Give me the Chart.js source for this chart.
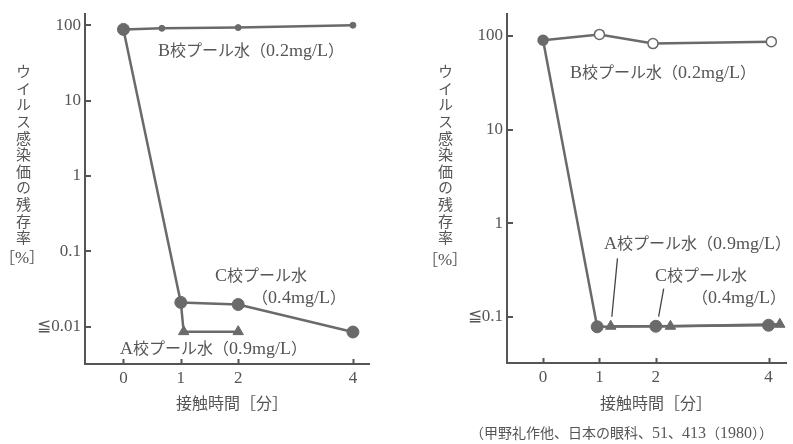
<!DOCTYPE html>
<html>
<head>
<meta charset="utf-8">
<script src="https://cdn.jsdelivr.net/npm/chart.js@4.4.1/dist/chart.umd.min.js"></script>
<style>
    /* 欧文部分だけ少し大きく（明朝体の組版に近づける） */
    @font-face { font-family: "MixLatin"; src: local("Liberation Serif"); unicode-range: U+0020-007E; size-adjust: 112%; }
    body { margin: 0; background: #fff; }
    #wrap { position: relative; width: 793px; height: 444px; overflow: hidden; font-family: "MixLatin", "Noto Sans CJK JP", serif; color: #555; }
    canvas { position: absolute; top: 0; }
    .t { position: absolute; white-space: nowrap; font-size: 16px; line-height: 16px; }
    .vt { position: absolute; writing-mode: vertical-rl; text-orientation: upright; font-size: 15px; line-height: 15px; letter-spacing: 1.6px; white-space: nowrap; }
    .cite { font-size: 14px; line-height: 14px; }
</style>
</head>
<body>
<div id="wrap">
    <canvas id="leftChart" width="400" height="444" style="left:0"></canvas>
    <canvas id="rightChart" width="393" height="444" style="left:400px"></canvas>

    <!-- 左グラフ -->
    <div class="vt" style="left:15px; top:64px;">ウイルス感染価の残存率</div>
    <div class="t" style="left:0px; top:250px; font-size:15px;">［%］</div>
    <div class="t" style="left:158px; top:42px;">B校プール水（0.2mg/L）</div>
    <div class="t" style="left:215px; top:267px;">C校プール水</div>
    <div class="t" style="left:252px; top:289px;">（0.4mg/L）</div>
    <div class="t" style="left:120px; top:340px;">A校プール水（0.9mg/L）</div>
    <div class="t" style="left:176px; top:395px;">接触時間［分］</div>

    <!-- 右グラフ -->
    <div class="vt" style="left:437px; top:64px;">ウイルス感染価の残存率</div>
    <div class="t" style="left:423px; top:252px; font-size:15px;">［%］</div>
    <div class="t" style="left:570px; top:64px;">B校プール水（0.2mg/L）</div>
    <div class="t" style="left:604px; top:235px;">A校プール水（0.9mg/L）</div>
    <div class="t" style="left:655px; top:267px;">C校プール水</div>
    <div class="t" style="left:692px; top:289px;">（0.4mg/L）</div>
    <div class="t" style="left:600px; top:395px;">接触時間［分］</div>
    <div class="t cite" style="left:470px; top:426px;">（甲野礼作他、日本の眼科、51、413（1980））</div>
</div>

<script>
// 軸の目盛
const xTicks = [0, 1, 2, 4];
const leftYTicks = [100, 10, 1, 0.1, 0.01];
const leftYLabels = ['100', '10', '1', '0.1', '≦0.01'];
const rightYTicks = [100, 10, 1, 0.1];
const rightYLabels = ['100', '10', '1', '≦0.1'];

// 左グラフのデータ（接触時間[分], 残存率[%]）
const leftBTimes = [0, 0.67, 2, 4];
const leftBValues = [88, 91, 93, 100];
const leftCTimes = [0, 1, 2, 4];
const leftCValues = [88, 0.021, 0.0197, 0.0085];
const leftATimes = [1, 1.05, 2];
const leftAValues = [0.021, 0.0086, 0.0086];

// 右グラフのデータ
const rightBTimes = [0, 1, 1.95, 4.05];
const rightBValues = [90, 104, 83, 87];
const rightCTimes = [0, 0.96, 2, 4];
const rightCValues = [90, 0.078, 0.079, 0.081];
const rightATimes = [1.2, 2.26, 4.2];
const rightAValues = [0.079, 0.079, 0.083];

// 引き出し線（右グラフ）
const rightLeaders = [
    [[1.22, 0.1], [1.32, 0.42]],
    [[2.05, 0.1], [2.14, 0.2]]
];

const GRAY = '#6a6a6a';
const AXIS = '#555';
const TICK_FONT = { family: "'Liberation Serif', serif", size: 17 };

const toPoints = (xs, ys) => xs.map((x, i) => ({ x: x, y: ys[i] }));

// 内向きの目盛線と引き出し線
const innerTicks = {
    id: 'innerTicks',
    afterDraw(chart, args, opts) {
        const { ctx, chartArea, scales } = chart;
        ctx.save();
        ctx.strokeStyle = AXIS;
        ctx.lineWidth = 2;
        ctx.beginPath();
        scales.x.ticks.forEach(t => {
            const px = Math.round(scales.x.getPixelForValue(t.value)) + 0.5;
            ctx.moveTo(px, chartArea.bottom);
            ctx.lineTo(px, chartArea.bottom - 5);
        });
        scales.y.ticks.forEach(t => {
            const py = Math.round(scales.y.getPixelForValue(t.value));
            ctx.moveTo(chartArea.left, py);
            ctx.lineTo(chartArea.left + 6, py);
        });
        ctx.stroke();

        ctx.lineWidth = 1.3;
        ctx.strokeStyle = '#444';
        ctx.beginPath();
        (opts.leaders || []).forEach(seg => {
            ctx.moveTo(scales.x.getPixelForValue(seg[0][0]), scales.y.getPixelForValue(seg[0][1]));
            ctx.lineTo(scales.x.getPixelForValue(seg[1][0]), scales.y.getPixelForValue(seg[1][1]));
        });
        ctx.stroke();
        ctx.restore();
    }
};

function lineSet(data, extra) {
    return Object.assign({
        data: data,
        borderColor: GRAY,
        borderWidth: 2.5,
        backgroundColor: GRAY,
        pointBackgroundColor: GRAY,
        pointBorderColor: GRAY,
        pointBorderWidth: 1,
        tension: 0,
        clip: false
    }, extra);
}

function makeChart(id, cfg) {
    return new Chart(document.getElementById(id), {
        type: 'line',
        data: { datasets: cfg.datasets },
        options: {
            responsive: false,
            animation: false,
            devicePixelRatio: 1,
            layout: { padding: { top: 13, right: cfg.padRight, left: 0, bottom: 0 } },
            plugins: { legend: { display: false }, tooltip: { enabled: false }, innerTicks: { leaders: cfg.leaders } },
            scales: {
                x: {
                    type: 'linear',
                    min: cfg.xMin, max: cfg.xMax,
                    afterBuildTicks: s => { s.ticks = xTicks.map(v => ({ value: v })); },
                    afterFit: s => { s.height = cfg.xHeight; },
                    ticks: { callback: v => String(v), font: TICK_FONT, color: '#555', padding: 4, autoSkip: false, maxRotation: 0 },
                    grid: { drawOnChartArea: false, drawTicks: false },
                    border: { color: AXIS, width: 2 }
                },
                y: {
                    type: 'logarithmic',
                    min: cfg.yMin, max: cfg.yMax,
                    afterBuildTicks: s => { s.ticks = cfg.yTicks.map(v => ({ value: v })); },
                    afterFit: s => { s.width = cfg.yWidth; },
                    ticks: {
                        callback: v => cfg.yLabels[cfg.yTicks.indexOf(v)],
                        font: TICK_FONT, color: '#555', padding: 4, autoSkip: false
                    },
                    grid: { drawOnChartArea: false, drawTicks: false },
                    border: { color: AXIS, width: 2 }
                }
            }
        },
        plugins: [innerTicks]
    });
}

makeChart('leftChart', {
    xMin: -0.67, xMax: 4.28, yMin: 0.0032, yMax: 140,
    yTicks: leftYTicks, yLabels: leftYLabels,
    yWidth: 85, xHeight: 80, padRight: 31,
    datasets: [
        lineSet(toPoints(leftATimes, leftAValues), { pointStyle: 'triangle', pointRadius: [0, 6, 6] }),
        lineSet(toPoints(leftCTimes, leftCValues), { pointRadius: [6, 6, 6, 6] }),
        lineSet(toPoints(leftBTimes, leftBValues), { pointRadius: [0, 3, 3, 3] })
    ]
});

makeChart('rightChart', {
    xMin: -0.64, xMax: 4.31, yMin: 0.032, yMax: 171,
    yTicks: rightYTicks, yLabels: rightYLabels,
    yWidth: 107, xHeight: 81, padRight: 1,
    leaders: rightLeaders,
    datasets: [
        lineSet(toPoints(rightATimes, rightAValues), { pointStyle: 'triangle', pointRadius: 6 }),
        lineSet(toPoints(rightCTimes, rightCValues), { pointRadius: [0, 6, 6, 6] }),
        lineSet(toPoints(rightBTimes, rightBValues), {
            pointRadius: 5,
            pointBorderWidth: 1.5,
            pointBackgroundColor: [GRAY, '#fff', '#fff', '#fff']
        })
    ]
});
</script>
</body>
</html>
